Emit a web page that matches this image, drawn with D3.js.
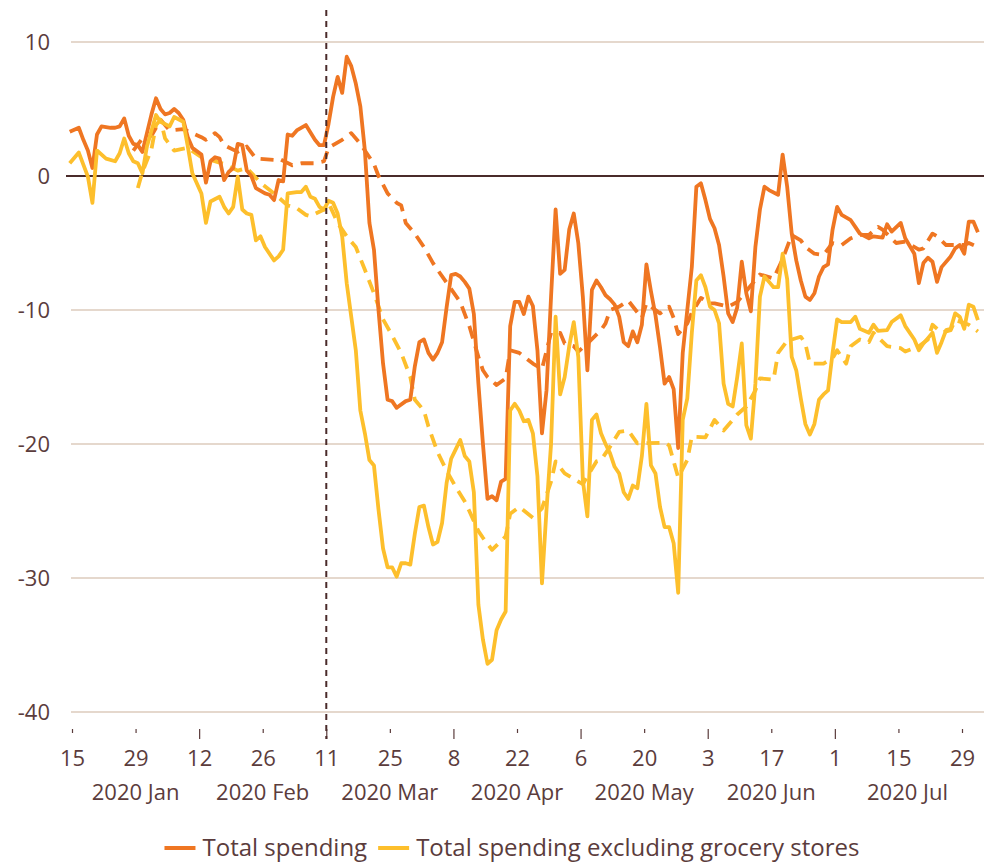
<!DOCTYPE html>
<html>
<head>
<meta charset="utf-8">
<script src="https://cdn.jsdelivr.net/npm/d3@7"></script>
<style>
  body { margin: 0; background: #fff; }
  svg { display: block; font-family: "Open Sans", sans-serif; }
</style>
</head>
<body>
<svg></svg>
<script>
// daily readings, 2020 (month-day)
var totalDates = ["01-14","01-16","01-17","01-18","01-19","01-20","01-21","01-23","01-24","01-25","01-26","01-27","01-28","01-29","01-30","01-31",
  "02-01","02-02","02-03","02-04","02-05","02-06","02-07","02-08","02-09","02-10","02-12","02-13","02-14","02-15","02-16","02-17","02-18","02-19","02-20","02-21","02-22","02-23","02-24","02-26","02-27","02-28","02-29",
  "03-01","03-02","03-03","03-04","03-06","03-08","03-09","03-10","03-11","03-12","03-13","03-14","03-15","03-16","03-17","03-18","03-19","03-20","03-21","03-22","03-23","03-24","03-25","03-26","03-28","03-29","03-30","03-31",
  "04-01","04-02","04-03","04-04","04-05","04-06","04-07","04-08","04-09","04-10","04-11","04-12","04-13","04-14","04-15","04-16","04-17","04-18","04-19","04-20","04-21","04-22","04-23","04-24","04-25","04-26","04-27","04-28","04-29","04-30",
  "05-01","05-02","05-03","05-04","05-05","05-06","05-07","05-08","05-09","05-10","05-11","05-12","05-13","05-14","05-15","05-16","05-17","05-18","05-19","05-20","05-21","05-22","05-23","05-24","05-25","05-26","05-27","05-28","05-29","05-30","05-31",
  "06-01","06-02","06-03","06-04","06-05","06-06","06-07","06-08","06-09","06-10","06-11","06-12","06-13","06-14","06-15","06-16","06-18","06-19","06-20","06-21","06-22","06-23","06-24","06-25","06-26","06-27","06-28","06-29","06-30",
  "07-01","07-02","07-04","07-05","07-06","07-08","07-09","07-11","07-12","07-13","07-15","07-16","07-18","07-19","07-20","07-21","07-22","07-23","07-24","07-26","07-27","07-28","07-29","07-30","07-31","08-01"];
var totalValues = [3.3,3.6,2.7,1.9,0.6,3.1,3.7,3.6,3.6,3.7,4.3,3.0,2.4,2.3,1.8,3.2,
  4.6,5.8,5.0,4.6,4.7,5.0,4.7,4.2,2.9,2.1,1.6,-0.5,1.1,1.4,1.3,-0.3,0.3,0.6,2.4,2.3,0.4,0.0,-0.9,-1.3,-1.4,-1.8,-0.3,
  -0.4,3.1,3.0,3.4,3.8,2.7,2.3,2.3,3.9,5.9,7.4,6.2,8.9,8.2,6.9,5.2,1.9,-3.5,-5.5,-10.0,-14.0,-16.7,-16.8,-17.3,-16.8,-16.7,-14.2,-12.4,
  -12.2,-13.2,-13.7,-13.2,-12.4,-9.8,-7.4,-7.3,-7.5,-7.9,-8.4,-10.3,-15.5,-20.0,-24.1,-23.9,-24.2,-22.8,-22.6,-11.2,-9.4,-9.4,-10.3,-9.0,-9.7,-13.0,-19.2,-16.0,-9.0,-2.5,
  -7.3,-7.0,-4.0,-2.8,-5.0,-9.0,-14.5,-8.5,-7.8,-8.3,-8.9,-9.2,-9.6,-10.5,-12.4,-12.7,-11.6,-12.4,-11.1,-6.6,-8.6,-10.4,-12.8,-15.5,-15.0,-15.9,-20.3,-13.2,-10.0,-6.8,-0.8,
  -0.55,-1.8,-3.2,-3.9,-5.15,-7.5,-10.25,-10.9,-9.8,-6.4,-8.75,-10.1,-5.3,-2.5,-0.8,-1.05,-1.4,1.6,-0.8,-4.3,-6.3,-7.8,-9.0,-9.25,-8.75,-7.5,-6.8,-6.6,-4.0,
  -2.3,-2.9,-3.3,-3.8,-4.3,-4.65,-4.5,-4.6,-3.6,-4.15,-3.5,-4.65,-5.8,-8.0,-6.5,-6.1,-6.4,-7.9,-6.8,-6.0,-5.4,-5.15,-5.8,-3.4,-3.4,-4.2];

var exGroceryDates = ["01-14","01-16","01-18","01-19","01-20","01-22","01-24","01-25","01-26","01-27","01-28","01-29","01-30","01-31",
  "02-02","02-03","02-05","02-06","02-08","02-09","02-10","02-12","02-13","02-14","02-16","02-17","02-18","02-19","02-20","02-21","02-22","02-23","02-24","02-25","02-26","02-28","02-29",
  "03-01","03-02","03-04","03-05","03-06","03-07","03-08","03-09","03-10","03-11","03-12","03-13","03-14","03-15","03-16","03-17","03-18","03-19","03-20","03-21","03-22","03-23","03-24","03-25","03-26","03-27","03-28","03-29","03-30","03-31",
  "04-01","04-02","04-03","04-04","04-05","04-06","04-07","04-08","04-09","04-10","04-11","04-12","04-13","04-14","04-15","04-16","04-17","04-18","04-19","04-20","04-21","04-22","04-23","04-24","04-25","04-26","04-27","04-28","04-29","04-30",
  "05-01","05-02","05-03","05-04","05-05","05-06","05-07","05-08","05-09","05-10","05-11","05-12","05-13","05-14","05-15","05-16","05-17","05-18","05-19","05-20","05-21","05-22","05-23","05-24","05-25","05-26","05-27","05-28","05-29","05-30","05-31",
  "06-01","06-02","06-03","06-04","06-05","06-06","06-07","06-08","06-09","06-10","06-11","06-12","06-13","06-14","06-15","06-16","06-17","06-18","06-19","06-20","06-21","06-22","06-23","06-24","06-25","06-26","06-27","06-28","06-29","06-30",
  "07-01","07-02","07-04","07-05","07-06","07-08","07-09","07-10","07-12","07-13","07-15","07-16","07-18","07-19","07-20","07-21","07-22","07-23","07-24","07-25","07-26","07-27","07-28","07-29","07-30","07-31","08-01"];
var exGroceryValues = [0.95,1.75,-0.05,-2.0,1.9,1.3,1.1,1.7,2.8,1.7,1.1,0.95,0.2,2.2,
  4.55,4.05,3.7,4.4,4.05,2.2,0.2,-1.3,-3.5,-1.9,-1.55,-2.3,-2.8,-2.3,-0.05,-2.5,-2.8,-2.9,-4.8,-4.5,-5.3,-6.3,-6.0,
  -5.5,-1.3,-1.2,-1.2,-0.8,-1.55,-1.7,-2.3,-2.5,-1.85,-2.0,-2.8,-4.5,-8.0,-10.5,-13.0,-17.5,-19.2,-21.2,-21.6,-24.9,-27.8,-29.2,-29.2,-29.9,-28.9,-28.9,-29.0,-26.7,-24.7,
  -24.6,-26.2,-27.5,-27.3,-25.9,-22.9,-21.1,-20.4,-19.7,-20.9,-21.3,-23.6,-32.0,-34.6,-36.4,-36.1,-33.9,-33.1,-32.5,-17.5,-17.0,-17.5,-18.3,-18.2,-19.2,-22.4,-30.4,-24.9,-20.0,-10.5,
  -16.3,-15.0,-12.7,-10.9,-13.5,-22.7,-25.4,-18.2,-17.8,-19.2,-20.0,-20.7,-21.7,-22.2,-23.6,-24.1,-23.1,-23.3,-20.9,-17.0,-21.6,-22.2,-24.7,-26.2,-26.2,-27.4,-31.1,-18.2,-16.6,-11.7,-7.8,
  -7.4,-8.3,-9.75,-10.0,-11.0,-15.5,-17.0,-17.2,-15.0,-12.5,-18.6,-19.6,-15.5,-9.0,-7.5,-7.9,-8.3,-8.3,-5.8,-7.7,-13.5,-14.5,-16.6,-18.5,-19.3,-18.5,-16.7,-16.3,-16.0,-13.2,
  -10.7,-10.9,-10.9,-10.5,-11.4,-11.7,-11.1,-11.55,-11.5,-10.9,-10.4,-11.2,-12.2,-13.0,-12.5,-12.1,-11.7,-13.2,-12.4,-11.5,-11.4,-10.25,-10.5,-11.4,-9.6,-9.75,-10.75];

// dashed companions (no legend entry)
var totalDashDates = ["01-28","01-30","02-01","02-03","02-05","02-08","02-10","02-12","02-13","02-15","02-16","02-17","02-20","02-22","02-24","02-28","02-29",
  "03-03","03-05","03-08","03-10","03-11","03-14","03-16","03-18","03-19","03-21","03-22","03-24","03-26","03-27","03-28","03-30",
  "04-01","04-03","04-04","04-09","04-11","04-13","04-14","04-15","04-17","04-19","04-20","04-22","04-25","04-27","04-29",
  "05-01","05-02","05-04","05-05","05-07","05-10","05-11","05-12","05-14","05-16","05-19","05-20","05-23","05-25","05-26","05-27","05-29","05-30",
  "06-01","06-03","06-04","06-07","06-09","06-14","06-17","06-19","06-21","06-23","06-24","06-26","06-28","06-30",
  "07-02","07-04","07-06","07-08","07-10","07-11","07-14","07-16","07-19","07-20","07-22","07-23","07-25","07-29","07-30","08-01"];
var totalDashValues = [1.9,2.8,3.0,4.2,3.4,3.5,3.2,2.9,2.7,3.2,2.9,2.3,1.8,2.2,1.3,1.2,1.3,
  0.8,0.95,0.95,1.1,2.1,2.7,3.2,2.4,1.9,0.9,0.0,-1.3,-2.0,-2.2,-3.5,-4.3,
  -5.3,-6.5,-7.0,-9.4,-11.2,-13.5,-14.5,-15.0,-15.6,-15.1,-13.0,-13.2,-14.0,-14.4,-11.7,
  -11.7,-12.5,-12.7,-13.1,-12.5,-11.5,-11.0,-10.0,-9.75,-9.3,-10.6,-9.5,-10.25,-9.75,-10.6,-11.8,-11.0,-10.2,
  -9.1,-9.5,-9.5,-9.75,-9.4,-7.35,-7.65,-6.2,-4.4,-4.8,-5.3,-5.8,-5.9,-5.0,
  -5.15,-4.65,-4.4,-4.4,-3.8,-4.0,-5.0,-4.9,-5.5,-5.4,-4.3,-4.5,-5.15,-5.15,-5.0,-5.3];

var exGroceryDashDates = ["01-29","01-30","02-01","02-02","02-03","02-04","02-06","02-09","02-12","02-14","02-17","02-20","02-22","02-25","02-28",
  "03-02","03-04","03-06","03-07","03-10","03-11","03-13","03-15","03-17","03-19","03-21","03-23","03-25","03-27","03-29","03-30",
  "04-01","04-02","04-04","04-06","04-08","04-10","04-11","04-13","04-14","04-16","04-19","04-20","04-22","04-25","04-27","04-29","04-30",
  "05-02","05-03","05-06","05-07","05-09","05-10","05-12","05-14","05-16","05-18","05-24","05-25","05-27","05-29","05-30",
  "06-02","06-04","06-06","06-09","06-11","06-13","06-14","06-17","06-18","06-20","06-23","06-24","06-25","06-28","06-30",
  "07-01","07-03","07-04","07-06","07-08","07-09","07-12","07-15","07-16","07-19","07-21","07-22","07-24","07-26","07-27","07-30","08-01"];
var exGroceryDashValues = [-0.9,0.3,2.0,3.8,4.2,2.8,1.9,2.1,1.4,1.2,0.9,0.4,0.6,-0.5,-1.3,
  -2.2,-2.4,-2.9,-3.0,-2.5,-2.0,-3.5,-4.5,-5.3,-7.0,-8.75,-10.7,-11.9,-13.2,-15.0,-16.7,
  -17.5,-18.7,-20.6,-22.0,-23.2,-24.3,-25.0,-26.5,-27.0,-27.9,-26.9,-25.2,-24.7,-25.5,-24.8,-22.8,-21.3,
  -22.2,-22.4,-23.0,-22.4,-21.3,-21.2,-20.2,-19.1,-19.0,-19.95,-19.9,-20.1,-22.5,-21.2,-19.45,
  -19.5,-18.2,-19.0,-17.8,-17.2,-16.0,-15.1,-15.2,-13.2,-12.3,-12.0,-12.5,-14.0,-14.0,-13.6,
  -13.0,-14.0,-12.7,-12.2,-12.4,-11.7,-12.7,-12.85,-13.1,-12.7,-12.2,-11.1,-11.7,-11.5,-10.75,-11.1,-11.6];

var yTicks = [10, 0, -10, -20, -30, -40];
var xTickDates = ["01-15","01-29","02-12","02-26","03-11","03-25","04-08","04-22","05-06","05-20","06-03","06-17","07-01","07-15","07-29"];
var majorTickDates = ["02-12","03-11","04-08","05-06","06-03","07-01"];
var monthLabels = ["2020 Jan","2020 Feb","2020 Mar","2020 Apr","2020 May","2020 Jun","2020 Jul"];
var monthLabelDates = ["01-29","02-26","03-25","04-22","05-20","06-17","07-17"];
var markerDate = "03-11";
var legendNames = ["Total spending", "Total spending excluding grocery stores"];

var svgWidth = 984, svgHeight = 864;
var orange = "#ef7622", yellow = "#fdbf2c", ink = "#5b3c3c", dark = "#4a2b2a", grid = "#dccbbd";

var parse = function(s) { return d3.utcParse("%Y-%m-%d")("2020-" + s); };

var svg = d3.select("svg")
    .attr("width", svgWidth)
    .attr("height", svgHeight);

var xScale = d3.scaleUtc()
    .domain([parse("01-15"), parse("07-29")])
    .range([72, 962]);

var yScale = d3.scaleLinear()
    .domain([-40, 10])
    .range([712, 42]);

// gridlines
svg.append("g").selectAll("line")
    .data(yTicks.filter(function(d) { return d !== 0; }))
    .enter().append("line")
    .attr("x1", 71).attr("x2", svgWidth)
    .attr("y1", function(d) { return yScale(d); })
    .attr("y2", function(d) { return yScale(d); })
    .attr("stroke", grid)
    .attr("stroke-width", 1.5);

// y axis labels (plain hyphen as in the original)
var yAxis = svg.append("g")
    .attr("transform", "translate(58,0)")
    .call(d3.axisLeft(yScale)
        .tickValues(yTicks)
        .tickFormat(function(d) { return String(d); })
        .tickSize(0)
        .tickPadding(8));
yAxis.select(".domain").remove();
yAxis.selectAll("text")
    .attr("fill", ink)
    .style("font-size", "22px")
    .style("font-family", "Open Sans");

// zero line
svg.append("line")
    .attr("x1", 66).attr("x2", svgWidth)
    .attr("y1", yScale(0)).attr("y2", yScale(0))
    .attr("stroke", dark)
    .attr("stroke-width", 2);

// x axis
var xAxis = svg.append("g")
    .attr("transform", "translate(0,729)")
    .call(d3.axisBottom(xScale)
        .tickValues(xTickDates.map(parse))
        .tickFormat(d3.utcFormat("%-d"))
        .tickSize(10)
        .tickPadding(11));
xAxis.select(".domain").remove();
xAxis.selectAll(".tick line")
    .attr("stroke", ink)
    .attr("stroke-width", 1.2)
    .attr("y2", function(d) {
        return majorTickDates.indexOf(d3.utcFormat("%m-%d")(d)) >= 0 ? 10 : 4;
    });
xAxis.selectAll("text")
    .attr("fill", ink)
    .style("font-size", "22px")
    .style("font-family", "Open Sans");

// month labels
svg.append("g").selectAll("text")
    .data(monthLabels)
    .enter().append("text")
    .attr("x", function(d, i) { return xScale(parse(monthLabelDates[i])); })
    .attr("y", 800)
    .attr("text-anchor", "middle")
    .attr("fill", ink)
    .style("font-size", "22px")
    .text(function(d) { return d; });

// series (points sit at midday of their date)
var line = d3.line()
    .x(function(d) { return xScale(d3.utcHour.offset(d.date, 12)); })
    .y(function(d) { return yScale(d.value); });

function toPoints(dates, values) {
    return dates.map(function(s, i) { return { date: parse(s), value: values[i] }; });
}

var series = [
    { points: toPoints(totalDashDates, totalDashValues), color: orange, dash: "13,8" },
    { points: toPoints(exGroceryDashDates, exGroceryDashValues), color: yellow, dash: "13,8" },
    { points: toPoints(totalDates, totalValues), color: orange, dash: null },
    { points: toPoints(exGroceryDates, exGroceryValues), color: yellow, dash: null }
];

svg.append("g").selectAll("path")
    .data(series)
    .enter().append("path")
    .attr("d", function(d) { return line(d.points); })
    .attr("fill", "none")
    .attr("stroke", function(d) { return d.color; })
    .attr("stroke-width", 3.8)
    .attr("stroke-linejoin", "round")
    .attr("stroke-dasharray", function(d) { return d.dash; });

// marker line at 11 March
var mx = xScale(parse(markerDate));
svg.append("line")
    .attr("x1", mx).attr("x2", mx)
    .attr("y1", 10).attr("y2", 739)
    .attr("stroke", dark)
    .attr("stroke-width", 2)
    .attr("stroke-dasharray", "6,5");

// legend
var legend = svg.append("g");
var lx = 0;
legendNames.forEach(function(name, i) {
    var item = legend.append("g").attr("transform", "translate(" + lx + ",0)");
    item.append("line")
        .attr("x1", 0).attr("x2", 31)
        .attr("y1", 0).attr("y2", 0)
        .attr("stroke", i === 0 ? orange : yellow)
        .attr("stroke-width", 4);
    var t = item.append("text")
        .attr("x", 38)
        .attr("y", 8)
        .attr("fill", ink)
        .style("font-size", "24px")
        .text(name);
    lx += 38 + t.node().getComputedTextLength() + 11;
});
legend.attr("transform", "translate(" + (512 - (lx - 11) / 2) + ",848)");
</script>
</body>
</html>
